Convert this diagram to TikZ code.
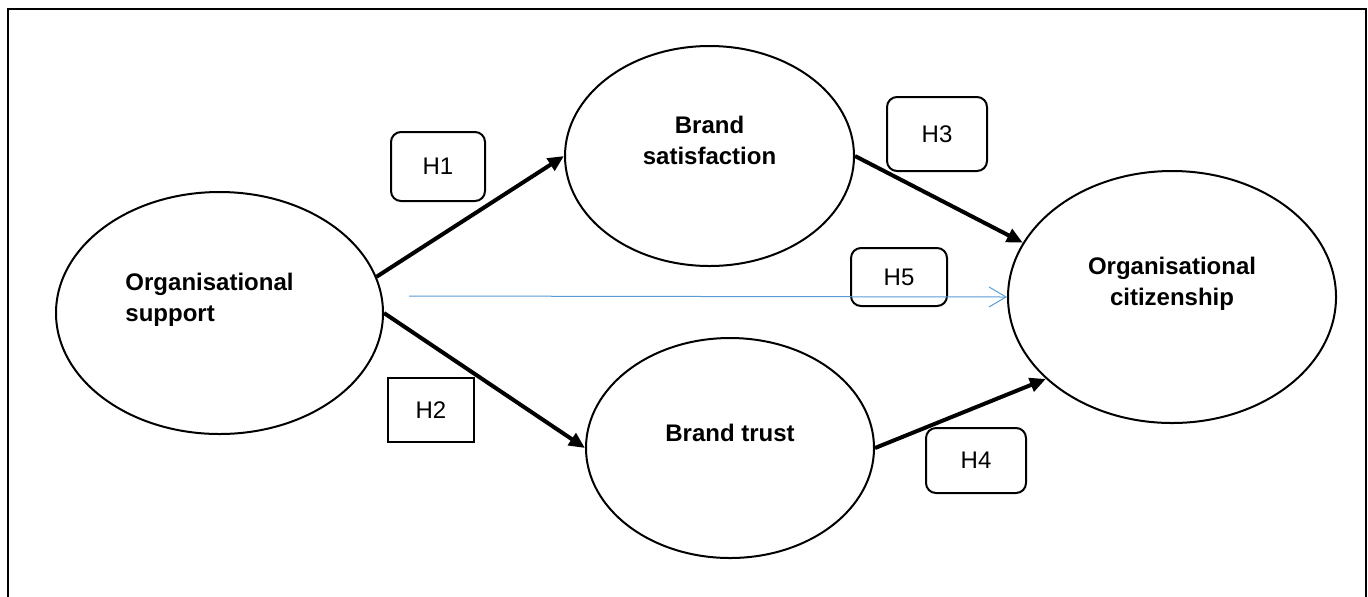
\documentclass[tikz,border=0pt]{standalone}
\usepackage{fontspec}
\setmainfont{Liberation Sans}
\usepackage{tikz}
\usetikzlibrary{arrows.meta,shapes.geometric}
\definecolor{linkblue}{RGB}{91,155,213}

\begin{document}
\begin{tikzpicture}[x=0.5pt,y=-0.5pt]

\tikzset{construct/.style = {shape=ellipse,draw,line width=1pt,inner sep=0pt,align=center,font=\bfseries\fontsize{12}{15.5}\selectfont}}
\tikzset{hyp/.style = {shape=rectangle,draw,line width=1pt,rounded corners=5pt,font=\fontsize{12}{14}\selectfont}}
\tikzset{hyp2/.style = {shape=rectangle,draw,line width=1pt,font=\fontsize{12}{14}\selectfont}}
\tikzset{edge/.style = {->,> = {Triangle[length=8pt,width=7pt]},line width=2pt}}
\tikzset{edge2/.style = {-{Straight Barb[length=8.5pt,width=10pt,line width=0.5pt]},linkblue,line width=0.5pt}}
\useasboundingbox (0,0) rectangle (1368,596);
% frame
\draw[line width=1pt] (8,610) -- (8,8.5) -- (1366,8.5) -- (1366,610);
% vertices
\node[construct,align=left,minimum width=163.5pt,minimum height=121pt] (OrgSupport) at (219.5,313) {Organisational\hspace*{10pt}\\support\\\mbox{}};
\node[construct,minimum width=144.5pt,minimum height=110pt] (BrandSat) at (709.5,156) {Brand\\satisfaction\\\mbox{}};
\node[construct,minimum width=144pt,minimum height=110pt] (BrandTrust) at (730,448) {Brand trust\\\mbox{}};
\node[construct,minimum width=164pt,minimum height=126pt] (OrgCit) at (1172,297) {Organisational\\citizenship\\\mbox{}};
% hypotheses
\node[hyp,minimum width=47pt,minimum height=34.5pt] (H1) at (438,166.5) {H1};
\node[hyp2,minimum width=43pt,minimum height=32pt] (H2) at (431,410) {H2};
\node[hyp,minimum width=50pt,minimum height=37pt] (H3) at (937,134) {H3};
\node[hyp,minimum width=50pt,minimum height=32.5pt] (H4) at (976,460.5) {H4};
\node[hyp,minimum width=48pt,minimum height=29pt] (H5) at (899,277) {H5};
\coordinate (H5from) at (409,296);
%edges
\draw[edge] (OrgSupport.13) to (BrandSat.west);
\draw[edge] (OrgSupport.east) to (BrandTrust.west);
\draw[edge] (BrandSat.east) to (OrgCit.160);
\draw[edge] (BrandTrust.east) to (OrgCit.213);
\draw[edge2] (H5from) to (OrgCit.west);
\end{tikzpicture}
\end{document}
